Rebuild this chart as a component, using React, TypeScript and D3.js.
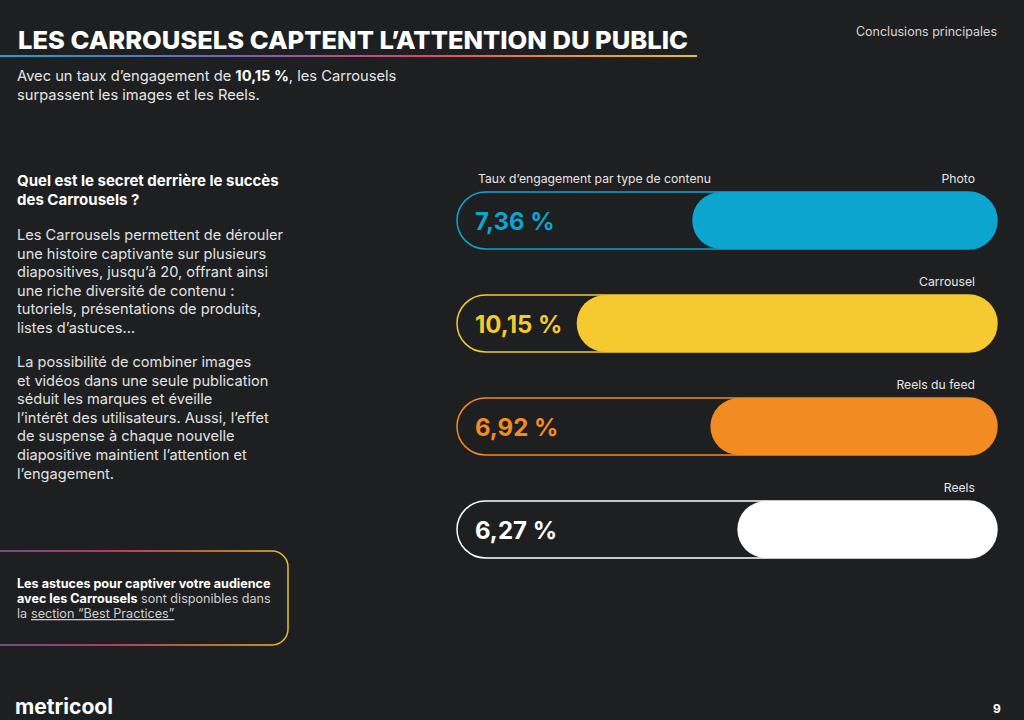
import React from "react";
import * as d3 from "d3";

const categories = ["Photo", "Carrousel", "Reels du feed", "Reels"];
const values = [7.36, 10.15, 6.92, 6.27];
const valueLabels = ["7,36 %", "10,15 %", "6,92 %", "6,27 %"];
const colors = ["#0ba5d0", "#f5ca31", "#f28b22", "#ffffff"];

const para1 = [
  "Les Carrousels permettent de dérouler",
  "une histoire captivante sur plusieurs",
  "diapositives, jusqu’à 20, offrant ainsi",
  "une riche diversité de contenu :",
  "tutoriels, présentations de produits,",
  "listes d’astuces…",
];
const para2 = [
  "La possibilité de combiner images",
  "et vidéos dans une seule publication",
  "séduit les marques et éveille",
  "l’intérêt des utilisateurs. Aussi, l’effet",
  "de suspense à chaque nouvelle",
  "diapositive maintient l’attention et",
  "l’engagement.",
];

export default function App() {
  const W = 1024, H = 720;
  const barLeft = 457, barRight = 997, barH = 57;
  const x = d3.scaleLinear().domain([0, 13.04]).range([0, barRight - barLeft]);
  const y = d3.scalePoint<string>().domain(categories).range([192, 501]);
  const font = "Inter, 'Noto Sans', sans-serif";
  return (
    <svg width={W} height={H} style={{ position: "absolute", left: 0, top: 0 }} fontFamily={font}>
      <defs>
        <linearGradient id="ul" x1="0" x2="1" y1="0" y2="0">
          <stop offset="0" stopColor="#1aa3cf" />
          <stop offset="0.35" stopColor="#7b5fb5" />
          <stop offset="0.6" stopColor="#e0456e" />
          <stop offset="0.8" stopColor="#ee8a3a" />
          <stop offset="1" stopColor="#e5c12a" />
        </linearGradient>
        <linearGradient id="bx" x1="0" x2="1" y1="0" y2="0">
          <stop offset="0" stopColor="#7a62b8" />
          <stop offset="0.4" stopColor="#d9457a" />
          <stop offset="0.75" stopColor="#ec8a3c" />
          <stop offset="1" stopColor="#e5c12a" />
        </linearGradient>
      </defs>
      <rect width={W} height={H} fill="#1e1f21" />
      <text x={18} y={49} fill="#ffffff" fontSize={25} fontWeight={800} textLength={670} lengthAdjust="spacingAndGlyphs">
        LES CARROUSELS CAPTENT L’ATTENTION DU PUBLIC
      </text>
      <rect x={0} y={55} width={697} height={2} fill="url(#ul)" />
      <text x={997} y={36} fill="#d6d6d6" fontSize={12.5} textAnchor="end">Conclusions principales</text>
      <text x={17} y={81} fill="#e6e6e6" fontSize={14.7}>
        Avec un taux d’engagement de <tspan fontWeight={700} fill="#fff">10,15 %</tspan>, les Carrousels
      </text>
      <text x={17} y={100} fill="#e6e6e6" fontSize={14.7}>surpassent les images et les Reels.</text>

      <text x={17} y={186} fill="#fff" fontSize={15} fontWeight={700}>Quel est le secret derrière le succès</text>
      <text x={17} y={205} fill="#fff" fontSize={15} fontWeight={700}>des Carrousels ?</text>
      {para1.map((l, i) => (
        <text key={"a" + i} x={17} y={240 + i * 18.6} fill="#e2e2e2" fontSize={14.6}>{l}</text>
      ))}
      {para2.map((l, i) => (
        <text key={"b" + i} x={17} y={367 + i * 18.6} fill="#e2e2e2" fontSize={14.6}>{l}</text>
      ))}

      <rect x={-20} y={551} width={308} height={94} rx={16} fill="none" stroke="url(#bx)" strokeWidth={1.5} />
      <text x={17} y={588} fill="#fff" fontSize={12.6} fontWeight={700}>Les astuces pour captiver votre audience</text>
      <text x={17} y={603} fontSize={12.6} fill="#cfcfcf">
        <tspan fontWeight={700} fill="#fff">avec les Carrousels</tspan> sont disponibles dans
      </text>
      <text x={17} y={618} fontSize={12.6} fill="#cfcfcf">la</text>
      <text x={31} y={618} fontSize={12.6} fill="#cfcfcf" textDecoration="underline">section “Best Practices”</text>

      <text x={478} y={183} fill="#e6e6e6" fontSize={12.2}>Taux d’engagement par type de contenu</text>
      {categories.map((c, i) => {
        const top = y(c)!;
        const w = x(values[i]);
        return (
          <g key={c}>
            <text x={975} y={top - 9} fill="#e6e6e6" fontSize={12.2} textAnchor="end">{c}</text>
            <rect x={barLeft} y={top} width={barRight - barLeft} height={barH} rx={barH / 2} fill="none" stroke={colors[i]} strokeWidth={1.5} />
            <rect x={barRight - w} y={top} width={w} height={barH} rx={barH / 2} fill={colors[i]} />
            <text x={475} y={top + barH / 2 + 9} fill={colors[i]} fontSize={24} fontWeight={700}>{valueLabels[i]}</text>
          </g>
        );
      })}

      <text x={15} y={714} fill="#fff" fontSize={21} fontWeight={700} textLength={98} lengthAdjust="spacingAndGlyphs">metricool</text>
      <text x={993} y={713} fill="#fff" fontSize={12} fontWeight={700}>9</text>
    </svg>
  );
}
